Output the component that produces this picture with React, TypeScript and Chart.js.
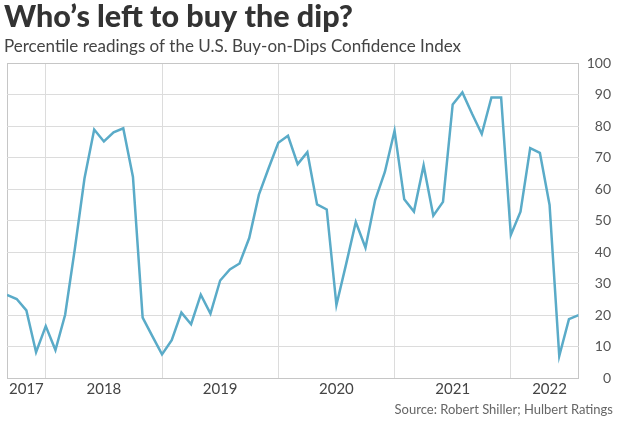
import { useEffect, useRef } from 'react';
import { Chart, registerables } from 'chart.js';

Chart.register(...registerables);

const TITLE = 'Who’s left to buy the dip?';
const SUBTITLE = 'Percentile readings of the U.S. Buy-on-Dips Confidence Index';
const SOURCE = 'Source: Robert Shiller; Hulbert Ratings';

const months = [
  '2017-09', '2017-10', '2017-11', '2017-12',
  '2018-01', '2018-02', '2018-03', '2018-04', '2018-05', '2018-06',
  '2018-07', '2018-08', '2018-09', '2018-10', '2018-11', '2018-12',
  '2019-01', '2019-02', '2019-03', '2019-04', '2019-05', '2019-06',
  '2019-07', '2019-08', '2019-09', '2019-10', '2019-11', '2019-12',
  '2020-01', '2020-02', '2020-03', '2020-04', '2020-05', '2020-06',
  '2020-07', '2020-08', '2020-09', '2020-10', '2020-11', '2020-12',
  '2021-01', '2021-02', '2021-03', '2021-04', '2021-05', '2021-06',
  '2021-07', '2021-08', '2021-09', '2021-10', '2021-11', '2021-12',
  '2022-01', '2022-02', '2022-03', '2022-04', '2022-05', '2022-06',
  '2022-07', '2022-08',
];

const values = [
  26.4, 25.1, 21.5, 8.2,
  16.5, 8.9, 20.1, 41, 63.5, 79, 75.2, 78.1, 79.4, 63.9, 19.2, 13.3,
  7.5, 12, 20.8, 17.1, 26.5, 20.5, 31, 34.5, 36.4, 44.5, 58.3, 66.7,
  74.8, 77, 68, 71.8, 55.2, 53.6, 23.2, 36.2, 49.6, 41.4, 56.6, 65.5,
  78.6, 56.8, 52.9, 67.6, 51.6, 56, 87, 90.8, 84, 77.6, 89.2, 89.2,
  45.5, 52.9, 73.1, 71.6, 55, 7, 18.7, 20,
];

const yearLabels = ['2017', '2018', '2019', '2020', '2021', '2022'];
const yTicks = [0, 10, 20, 30, 40, 50, 60, 70, 80, 90, 100];

const LINE_COLOR = '#5aabc8';
const GRID_COLOR = '#dcdcdc';
const FRAME_COLOR = '#c6c6c6';

export default function App() {
  const ref = useRef<HTMLCanvasElement>(null);

  useEffect(() => {
    if (!ref.current) return;
    const yearStart = (y: string) => months.findIndex((m) => m.startsWith(y));
    const yearMids = yearLabels.map((y, i) => {
      const s = yearStart(y);
      const next = i + 1 < yearLabels.length ? yearStart(yearLabels[i + 1]) : months.length;
      return (s + next) / 2;
    });
    const last = months.length - 1;
    const januaries = months
      .map((m, i) => (m.endsWith('-01') ? i : -1))
      .filter((i) => i >= 0);
    const frameTicks = [0, ...januaries, last];
    const yMin = yTicks[0];
    const yMax = yTicks[yTicks.length - 1];

    const sourcePlugin = {
      id: 'sourceNote',
      afterDraw(chart: any) {
        const { ctx } = chart;
        const xs = chart.scales.x;
        ctx.save();
        ctx.font = '13px Lato';
        ctx.fillStyle = '#666';
        ctx.textAlign = 'right';
        ctx.textBaseline = 'middle';
        ctx.fillText(SOURCE, chart.width - 13, xs.bottom + 10);
        ctx.restore();
      },
    };

    const chart = new Chart(ref.current, {
      type: 'line',
      data: {
        datasets: [
          {
            data: values.map((v, i) => ({ x: i, y: v })),
            borderColor: LINE_COLOR,
            borderWidth: 2.5,
            pointRadius: 0,
            tension: 0,
            fill: false,
            xAxisID: 'x',
            yAxisID: 'y',
          },
        ],
      },
      options: {
        animation: false,
        responsive: false,
        layout: { padding: { left: 4, right: 15, top: 0, bottom: 40 } },
        plugins: {
          legend: { display: false },
          tooltip: { enabled: false },
          title: {
            display: true,
            text: TITLE,
            align: 'start',
            color: '#333',
            font: { family: 'Lato', size: 30.5, weight: '900', lineHeight: 1 },
            padding: { top: 1.5, bottom: 0 },
          },
          subtitle: {
            display: true,
            text: SUBTITLE,
            align: 'start',
            color: '#444',
            font: { family: 'Lato', size: 17, weight: 'normal', lineHeight: 1 },
            padding: { top: 6, bottom: 8.5 },
          },
        },
        scales: {
          x: {
            type: 'linear',
            position: 'bottom',
            min: 0,
            max: last,
            bounds: 'data',
            afterBuildTicks: (axis: any) => {
              axis.ticks = yearMids.map((v) => ({ value: v }));
            },
            grid: { display: false, drawTicks: false },
            border: { display: false },
            ticks: {
              autoSkip: false,
              maxRotation: 0,
              padding: 2,
              color: '#444',
              font: { family: 'Lato', size: 15 },
              callback: (_v: any, i: number) => yearLabels[i],
            },
          },
          xg: {
            type: 'linear',
            position: 'bottom',
            min: 0,
            max: last,
            bounds: 'data',
            afterBuildTicks: (axis: any) => {
              axis.ticks = frameTicks.map((v) => ({ value: v }));
            },
            grid: {
              drawTicks: false,
              color: (c: any) =>
                c.tick && (c.tick.value === 0 || c.tick.value === last) ? FRAME_COLOR : GRID_COLOR,
              lineWidth: 1,
            },
            border: { display: false },
            ticks: { display: false },
          },
          y: {
            type: 'linear',
            position: 'right',
            min: yMin,
            max: yMax,
            afterBuildTicks: (axis: any) => {
              axis.ticks = yTicks.map((v) => ({ value: v }));
            },
            grid: {
              drawTicks: false,
              color: (c: any) =>
                c.tick && (c.tick.value === yMin || c.tick.value === yMax) ? FRAME_COLOR : GRID_COLOR,
              lineWidth: 1,
            },
            border: { display: false },
            ticks: {
              padding: 4,
              crossAlign: 'far',
              color: '#555',
              font: { family: 'Lato', size: 14 },
            },
          },
          yl: {
            type: 'linear',
            position: 'left',
            display: true,
            grid: { display: false, drawTicks: false },
            border: { display: false },
            ticks: { display: false },
            afterFit: (s: any) => {
              s.width = 3;
            },
          },
        },
      } as any,
      plugins: [sourcePlugin],
    });
    return () => chart.destroy();
  }, []);

  return (
    <div style={{ position: 'fixed', left: 0, top: 0, width: 626, height: 440, background: '#fff' }}>
      <canvas ref={ref} width={626} height={440} style={{ display: 'block' }} />
    </div>
  );
}
